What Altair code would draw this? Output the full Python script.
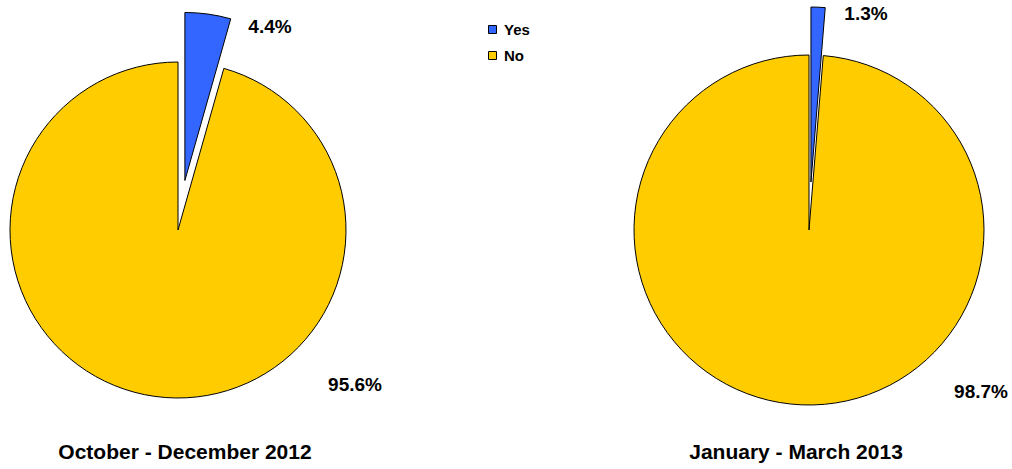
import math
import altair as alt
import pandas as pd

# ---- data ----
periods = ["October - December 2012", "January - March 2013"]
answers = ["Yes", "No"]
yes_pct = [4.4, 1.3]
no_pct = [95.6, 98.7]

rows = []
for i, p in enumerate(periods):
    rows.append({"period": p, "answer": "Yes", "order": 0, "value": yes_pct[i]})
    rows.append({"period": p, "answer": "No", "order": 1, "value": no_pct[i]})
df = pd.DataFrame(rows)

FONT = "Liberation Sans"
BLUE = "#3366FF"
YELLOW = "#FFCC00"

color = alt.Color(
    "answer:N",
    scale=alt.Scale(domain=answers, range=[BLUE, YELLOW]),
    legend=alt.Legend(
        title=None, orient="none", legendX=485, legendY=22,
        symbolType="square", symbolSize=64, symbolStrokeColor="black",
        symbolStrokeWidth=1, symbolOpacity=1,
        labelFont=FONT, labelFontSize=15, labelFontWeight="bold", labelColor="black",
        rowPadding=10, labelOffset=4,
    ),
)

# layout per pie: center x, center y, radius, explode distance, label positions
layout = [
    dict(cx=178, cy=230, r=168, d=50, yes_lbl=(270, 27), no_lbl=(355, 385), title=(185, 453)),
    dict(cx=809, cy=230, r=175, d=48, yes_lbl=(866, 14), no_lbl=(981, 392), title=(796, 453)),
]

layers = []
for i, p in enumerate(periods):
    L = layout[i]
    base = (
        alt.Chart(df)
        .transform_filter(alt.datum.period == p)
        .transform_joinaggregate(total="sum(value)")
        .transform_window(cum="sum(value)", sort=[alt.SortField("order")], frame=[None, 0])
        .transform_calculate(
            t0="(datum.cum - datum.value) / datum.total * 2 * PI",
            t1="datum.cum / datum.total * 2 * PI",
            label="format(datum.value, '.1f') + '%'",
        )
    )
    mid = yes_pct[i] / 100.0 * math.pi
    dx = L["d"] * math.sin(mid)
    dy = -L["d"] * math.cos(mid)

    no_arc = base.transform_filter(alt.datum.answer == "No").mark_arc(
        radius=L["r"], stroke="black", strokeWidth=1
    ).encode(
        theta=alt.Theta("t0:Q", scale=None), theta2=alt.Theta2("t1"),
        color=color, x=alt.value(L["cx"]), y=alt.value(L["cy"]),
    )
    yes_arc = base.transform_filter(alt.datum.answer == "Yes").mark_arc(
        radius=L["r"], stroke="black", strokeWidth=1
    ).encode(
        theta=alt.Theta("t0:Q", scale=None), theta2=alt.Theta2("t1"),
        color=color, x=alt.value(L["cx"] + dx), y=alt.value(L["cy"] + dy),
    )
    yes_txt = base.transform_filter(alt.datum.answer == "Yes").mark_text(
        font=FONT, fontSize=19, fontWeight="bold", color="black", align="center", baseline="middle"
    ).encode(text="label:N", x=alt.value(L["yes_lbl"][0]), y=alt.value(L["yes_lbl"][1]))
    no_txt = base.transform_filter(alt.datum.answer == "No").mark_text(
        font=FONT, fontSize=19, fontWeight="bold", color="black", align="center", baseline="middle"
    ).encode(text="label:N", x=alt.value(L["no_lbl"][0]), y=alt.value(L["no_lbl"][1]))
    title = base.transform_filter(alt.datum.answer == "No").mark_text(
        font=FONT, fontSize=21, fontWeight="bold", color="black", align="center", baseline="middle"
    ).encode(text="period:N", x=alt.value(L["title"][0]), y=alt.value(L["title"][1]))
    layers += [no_arc, yes_arc, yes_txt, no_txt, title]

chart = (
    alt.layer(*layers)
    .properties(width=1012, height=469, padding=0, autosize="none", background="white")
    .configure_view(stroke=None)
)

chart.save("out.html", embed_options={"renderer": "svg", "actions": False})
